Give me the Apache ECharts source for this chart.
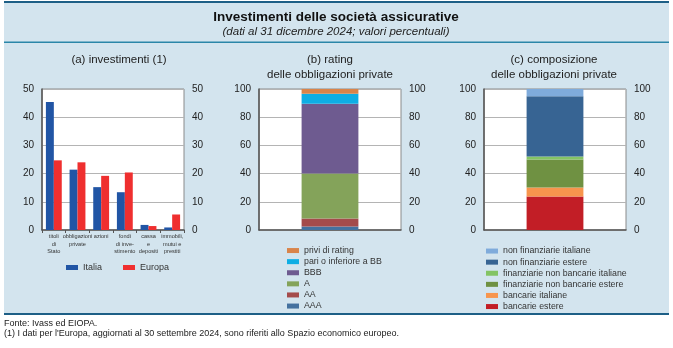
<!DOCTYPE html>
<html>
<head>
<meta charset="utf-8">
<script src="https://cdn.jsdelivr.net/npm/echarts@6/dist/echarts.min.js"></script>
<style>
  html, body { margin: 0; padding: 0; background: #ffffff; }
  #chart { width: 673px; height: 348px; }
</style>
</head>
<body>
<div id="chart"></div>
<script>
// (a) investimenti: categories and shares (%)
const investCategories = ['titoli\ndi\nStato', 'obbligazioni\nprivate', 'azioni', 'fondi\ndi inve-\nstimento', 'cassa\ne\ndepositi', 'immobili,\nmutui e\nprestiti'];
const investItalia = [45.4, 21.4, 15.2, 13.4, 1.8, 0.9];
const investEuropa = [24.7, 24.0, 19.2, 20.4, 1.4, 5.5];

// (b) rating delle obbligazioni private, bottom to top
const ratingNames = ['AAA', 'AA', 'A', 'BBB', 'pari o inferiore a BB', 'privi di rating'];
const ratingValues = [2.4, 5.7, 31.9, 49.5, 7.2, 3.3];
const ratingColors = ['#44719f', '#a44b4b', '#84a35a', '#6e5b90', '#0eaee4', '#d9844a'];

// (c) composizione delle obbligazioni private, bottom to top
const compNames = ['bancarie estere', 'bancarie italiane', 'finanziarie non bancarie estere', 'finanziarie non bancarie italiane', 'non finanziarie estere', 'non finanziarie italiane'];
const compValues = [23.7, 6.4, 19.9, 2.1, 42.7, 5.2];
const compColors = ['#c21e26', '#f7954d', '#6f9142', '#84c464', '#376493', '#7fabdb'];

const FONT = '"Liberation Sans", Arial, Helvetica, sans-serif';
const TXT = '#222';

const chart = echarts.init(document.getElementById('chart'), null, { renderer: 'canvas' });

const gridBox = { top: 89, height: 141, width: 142, show: true, backgroundColor: '#ffffff', borderColor: '#8a8a8a', borderWidth: 1 };
const grids = [
  Object.assign({ left: 42 }, gridBox),
  Object.assign({ left: 259 }, gridBox),
  Object.assign({ left: 484 }, gridBox)
];

function yPair(gridIndex, max, interval) {
  const base = {
    gridIndex, min: 0, max, interval,
    axisTick: { show: false },
    axisLabel: { color: TXT, fontFamily: FONT, fontSize: 10, margin: 8 }
  };
  return [
    Object.assign({}, base, {
      position: 'left',
      axisLine: { show: true, lineStyle: { color: '#555', width: 1.5 } },
      splitLine: { show: true, lineStyle: { color: '#b4b4b4', width: 1 } }
    }),
    Object.assign({}, base, {
      position: 'right',
      axisLine: { show: false },
      splitLine: { show: false }
    })
  ];
}

const xAxes = [
  {
    gridIndex: 0, type: 'category', data: investCategories,
    axisLine: { lineStyle: { color: '#555', width: 1.5 } },
    axisTick: { show: true, length: 3, interval: 0, lineStyle: { color: '#555' } },
    axisLabel: { interval: 0, color: '#333', fontFamily: FONT, fontSize: 5.6, lineHeight: 7.5, margin: 3, verticalAlign: 'top' }
  },
  {
    gridIndex: 1, type: 'category', data: [''],
    axisLine: { lineStyle: { color: '#555', width: 1.5 } },
    axisTick: { show: false }, axisLabel: { show: false }
  },
  {
    gridIndex: 2, type: 'category', data: [''],
    axisLine: { lineStyle: { color: '#555', width: 1.5 } },
    axisTick: { show: false }, axisLabel: { show: false }
  }
];

const yAxes = [].concat(yPair(0, 50, 10), yPair(1, 100, 20), yPair(2, 100, 20));

const series = [
  { name: 'Italia', type: 'bar', xAxisIndex: 0, yAxisIndex: 0, data: investItalia,
    itemStyle: { color: '#2155a5' }, barGap: '0%', barCategoryGap: '33%' },
  { name: 'Europa', type: 'bar', xAxisIndex: 0, yAxisIndex: 0, data: investEuropa,
    itemStyle: { color: '#ef2f2f' }, barGap: '0%', barCategoryGap: '33%' }
];
ratingNames.forEach((n, i) => series.push({
  name: n, type: 'bar', stack: 'rating', xAxisIndex: 1, yAxisIndex: 2,
  data: [ratingValues[i]], barWidth: '40%', itemStyle: { color: ratingColors[i] }
}));
compNames.forEach((n, i) => series.push({
  name: n, type: 'bar', stack: 'comp', xAxisIndex: 2, yAxisIndex: 4,
  data: [compValues[i]], barWidth: '40%', itemStyle: { color: compColors[i] }
}));

const legendText = { color: '#333', fontFamily: FONT, fontSize: 8.8, lineHeight: 11.1 };

const option = {
  animation: false,
  backgroundColor: '#ffffff',
  textStyle: { fontFamily: FONT },
  title: [
    { text: 'Investimenti delle società assicurative', left: 336, top: 10, padding: 0, textAlign: 'center',
      textStyle: { fontFamily: FONT, fontSize: 13.5, fontWeight: 'bold', color: '#111' } },
    { text: '(dati al 31 dicembre 2024; valori percentuali)', left: 336, top: 26, padding: 0, textAlign: 'center',
      textStyle: { fontFamily: FONT, fontSize: 11.5, fontStyle: 'italic', fontWeight: 'normal', color: '#222' } },
    { text: '(a) investimenti (1)', left: 119, top: 53.5, padding: 0, textAlign: 'center',
      textStyle: { fontFamily: FONT, fontSize: 11.5, fontWeight: 'normal', color: '#222' } },
    { text: '(b) rating\ndelle obbligazioni private', left: 330, top: 52, padding: 0, textAlign: 'center',
      textStyle: { fontFamily: FONT, fontSize: 11.5, fontWeight: 'normal', color: '#222', lineHeight: 15 } },
    { text: '(c) composizione\ndelle obbligazioni private', left: 554, top: 52, padding: 0, textAlign: 'center',
      textStyle: { fontFamily: FONT, fontSize: 11.5, fontWeight: 'normal', color: '#222', lineHeight: 15 } }
  ],
  legend: [
    { data: ['Italia', 'Europa'], left: 66, top: 263, padding: 0, orient: 'horizontal', itemWidth: 12, itemHeight: 5,
      itemGap: 21, textStyle: { color: '#333', fontFamily: FONT, fontSize: 9 }, icon: 'rect' },
    { data: ratingNames.slice().reverse(), left: 287, top: 245, padding: 0, orient: 'vertical', itemWidth: 12, itemHeight: 5,
      itemGap: 0, textStyle: legendText, icon: 'rect' },
    { data: compNames.slice().reverse(), left: 486, top: 245.5, padding: 0, orient: 'vertical', itemWidth: 12, itemHeight: 5,
      itemGap: 0, textStyle: legendText, icon: 'rect' }
  ],
  grid: grids,
  xAxis: xAxes,
  yAxis: yAxes,
  series,
  graphic: [
    { type: 'rect', z: -100, shape: { x: 4, y: 1, width: 665, height: 313 }, style: { fill: '#d3e4ee' } },
    { type: 'rect', z: -90, shape: { x: 4, y: 1, width: 665, height: 2 }, style: { fill: '#1d5f86' } },
    { type: 'rect', z: -90, shape: { x: 4, y: 41.5, width: 665, height: 1.5 }, style: { fill: '#2a86a8' } },
    { type: 'rect', z: -90, shape: { x: 4, y: 313, width: 665, height: 2 }, style: { fill: '#1d5f86' } },
    { type: 'text', left: 4, top: 319, style: { text: 'Fonte: Ivass ed EIOPA.', fill: '#222', font: '9px ' + FONT } },
    { type: 'text', left: 4, top: 329, style: { text: "(1) I dati per l'Europa, aggiornati al 30 settembre 2024, sono riferiti allo Spazio economico europeo.", fill: '#222', font: '9px ' + FONT } }
  ]
};

chart.setOption(option);
</script>
</body>
</html>
